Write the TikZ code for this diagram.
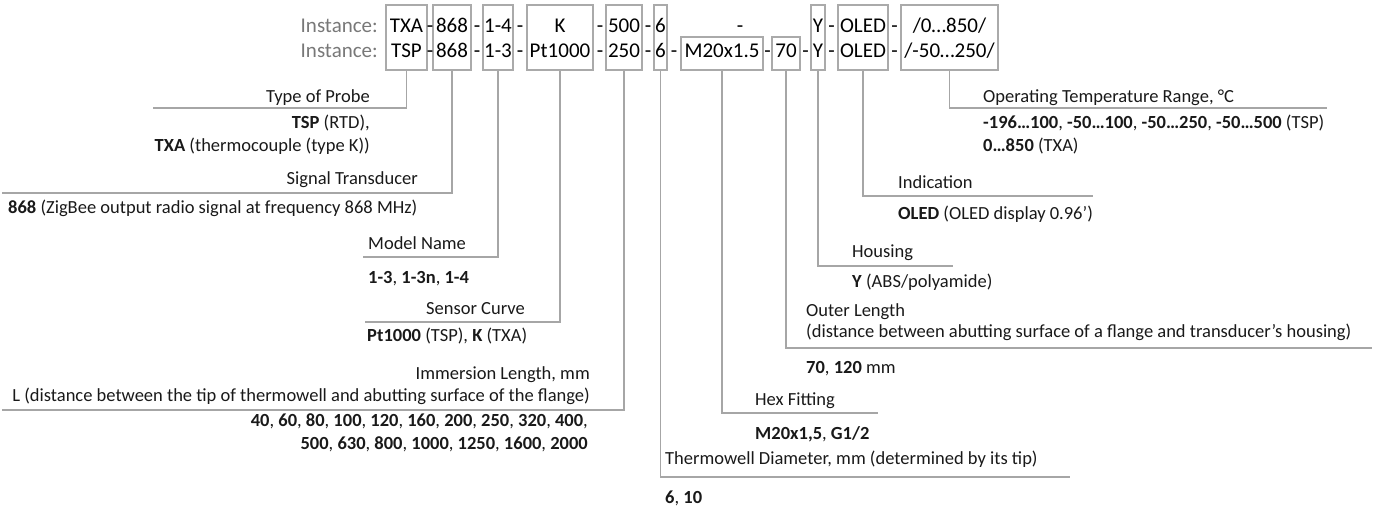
\documentclass[tikz,border=0pt]{standalone}
\usepackage{fontspec}
\setmainfont{Carlito}
\definecolor{linegray}{RGB}{166,166,166}
\definecolor{boxgray}{RGB}{170,170,170}
\definecolor{instgray}{RGB}{120,120,120}
\begin{document}
\begin{tikzpicture}[x=1pt, y=-1pt,
    fld/.style n args={2}{draw=boxgray, line width=1.1,
    minimum width=#1, minimum height=#2, inner sep=0},
    code/.style={inner sep=0, anchor=base, font=\fontsize{21}{25}\selectfont},
    lbl/.style={inner sep=0, text=black!90, font=\fontsize{18.5}{22}\selectfont},
    lnk/.style={draw=linegray, line width=1.3}]
    \useasboundingbox (0,0) rectangle (1386,507);
    % code fields
    \node[fld={41}{65}](bProbe) at (406.5,37.5) {};
    \node[fld={38}{65}](bSignal) at (452,37.5) {};
    \node[fld={30}{65}](bModel) at (498,37.5) {};
    \node[fld={66}{65}](bCurve) at (560,37.5) {};
    \node[fld={36}{65}](bLength) at (624,37.5) {};
    \node[fld={13}{65}](bDiam) at (660.5,37.5) {};
    \node[fld={82}{33}](bFit) at (722,53.5) {};
    \node[fld={28}{33}](bOuter) at (786,53.5) {};
    \node[fld={14}{65}](bHouse) at (818,37.5) {};
    \node[fld={50}{65}](bInd) at (863,37.5) {};
    \node[fld={97}{65}](bRange) at (949.5,37.5) {};
    % the two instances
    \node[code, anchor=base east, text=instgray](inA) at (378,32) {Instance:};
    \node[code, anchor=base east, text=instgray](inB) at (378,57) {Instance:};
    \node[code](cProbeA) at (406.5,32) {TXA};
    \node[code](cProbeB) at (406.5,57) {TSP};
    \node[code](cSignalA) at (452,32) {868};
    \node[code](cSignalB) at (452,57) {868};
    \node[code](cModelA) at (498,32) {1-4};
    \node[code](cModelB) at (498,57) {1-3};
    \node[code](cCurveA) at (560,32) {K};
    \node[code](cCurveB) at (560,57) {Pt1000};
    \node[code](cLengthA) at (624,32) {500};
    \node[code](cLengthB) at (624,57) {250};
    \node[code](cDiamA) at (660.5,32) {6};
    \node[code](cDiamB) at (660.5,57) {6};
    \node[code](cFitB) at (722,57) {M20x1.5};
    \node[code](cOuterB) at (786,57) {70};
    \node[code](cHouseA) at (818,32) {Y};
    \node[code](cHouseB) at (818,57) {Y};
    \node[code](cIndA) at (863,32) {OLED};
    \node[code](cIndB) at (863,57) {OLED};
    \node[code](cRangeA) at (949.5,32) {/0…850/};
    \node[code](cRangeB) at (949.5,57) {/-50…250/};
    \foreach \x [count=\i] in {430,477,520,600,648,740,831.5,894.5}
        \node[code](dA\i) at (\x,32) {-};
    \foreach \x [count=\i] in {430,477,520,600,648,674,767.5,805.5,831.5,894.5}
        \node[code](dB\i) at (\x,57) {-};
    % leader ends
    \coordinate (eProbe) at (153,108);
    \coordinate (eSignal) at (2,193);
    \coordinate (eModel) at (363,257);
    \coordinate (eCurve) at (365,322);
    \coordinate (eLength) at (2,410);
    \coordinate (eDiam) at (1070,477);
    \coordinate (eFit) at (878,413);
    \coordinate (eOuter) at (1372,348);
    \coordinate (eHouse) at (953,266);
    \coordinate (eInd) at (1093,196);
    \coordinate (eRange) at (1327,108);
    \foreach \f in {Probe,Signal,Model,Curve,Length,Diam,Fit,Outer,House,Ind,Range}
        \draw[lnk] (b\f.south) |- (e\f);
    % left side
    \node[lbl, anchor=base east](tProbe) at (370,102) {Type of Probe};
    \node[lbl, anchor=base east](vProbeA) at (370,128) {\textbf{TSP} (RTD),};
    \node[lbl, anchor=base east](vProbeB) at (370,151) {\textbf{TXA} (thermocouple (type K))};
    \node[lbl, anchor=base east](tSignal) at (418,184) {Signal Transducer};
    \node[lbl, anchor=base west](vSignal) at (8,213) {\textbf{868} (ZigBee output radio signal at frequency 868 MHz)};
    \node[lbl, anchor=base west](tModel) at (368,249) {Model Name};
    \node[lbl, anchor=base west](vModel) at (368,283) {\textbf{1-3}, \textbf{1-3n}, \textbf{1-4}};
    \node[lbl, anchor=base east](tCurve) at (525,314) {Sensor Curve};
    \node[lbl, anchor=base west](vCurve) at (367,341) {\textbf{Pt1000} (TSP), \textbf{K} (TXA)};
    \node[lbl, anchor=base east](tLengthA) at (590,379) {Immersion Length, mm};
    \node[lbl, anchor=base east](tLengthB) at (590,401) {L (distance between the tip of thermowell and abutting surface of the flange)};
    \node[lbl, anchor=base east](vLengthA) at (588,426) {\textbf{40}, \textbf{60}, \textbf{80}, \textbf{100}, \textbf{120}, \textbf{160}, \textbf{200}, \textbf{250}, \textbf{320}, \textbf{400},};
    \node[lbl, anchor=base east](vLengthB) at (588,449) {\textbf{500}, \textbf{630}, \textbf{800}, \textbf{1000}, \textbf{1250}, \textbf{1600}, \textbf{2000}};
    % right side
    \node[lbl, anchor=base west](tDiam) at (665,464) {Thermowell Diameter, mm (determined by its tip)};
    \node[lbl, anchor=base west](vDiam) at (665,503) {\textbf{6}, \textbf{10}};
    \node[lbl, anchor=base west](tFit) at (755,405) {Hex Fitting};
    \node[lbl, anchor=base west](vFit) at (755,439) {\textbf{M20x1,5}, \textbf{G1/2}};
    \node[lbl, anchor=base west](tOuterA) at (806,316) {Outer Length};
    \node[lbl, anchor=base west](tOuterB) at (806,337) {(distance between abutting surface of a flange and transducer’s housing)};
    \node[lbl, anchor=base west](vOuter) at (806,373) {\textbf{70}, \textbf{120} mm};
    \node[lbl, anchor=base west](tHouse) at (852,257) {Housing};
    \node[lbl, anchor=base west](vHouse) at (852,287) {\textbf{Y} (ABS/polyamide)};
    \node[lbl, anchor=base west](tInd) at (898,188) {Indication};
    \node[lbl, anchor=base west](vInd) at (898,219) {\textbf{OLED} (OLED display 0.96’)};
    \node[lbl, anchor=base west](tRange) at (983,102) {Operating Temperature Range, °C};
    \node[lbl, anchor=base west](vRangeA) at (983,128) {\textbf{-196…100}, \textbf{-50…100}, \textbf{-50…250}, \textbf{-50…500} (TSP)};
    \node[lbl, anchor=base west](vRangeB) at (983,151) {\textbf{0…850} (TXA)};
\end{tikzpicture}
\end{document}
